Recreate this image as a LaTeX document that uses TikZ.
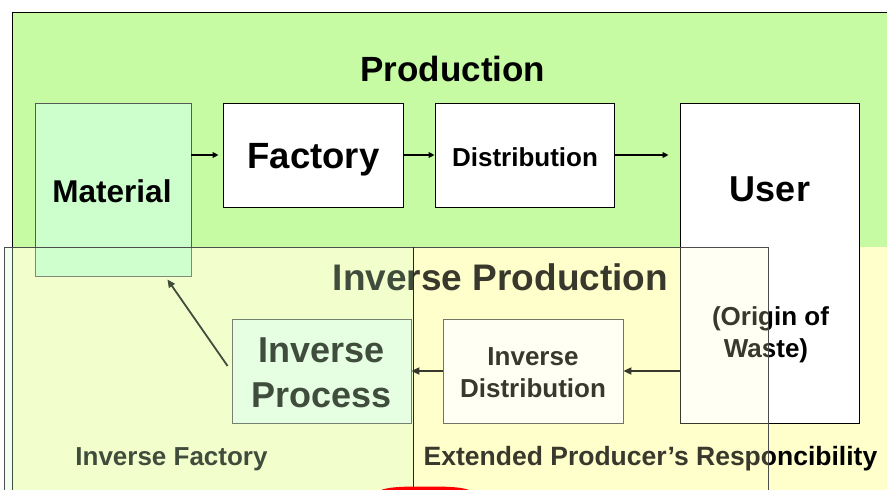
\documentclass[tikz,border=0pt]{standalone}
\usepackage{fontspec}
\setmainfont{Liberation Sans}
\usetikzlibrary{arrows.meta,calc}
\definecolor{prodgreen}{RGB}{198,251,163}
\definecolor{matgreen}{RGB}{204,255,204}
\definecolor{invyellow}{RGB}{255,255,204}
\definecolor{ovleft}{RGB}{214,255,204}
\begin{document}
\begin{tikzpicture}[x=1pt,y=-1pt,
  box/.style={draw=black, line width=0.8pt, fill=white, inner sep=0pt},
  ibox/.style={draw=black!70, line width=0.8pt, fill=white, inner sep=0pt},
  lbl/.style={anchor=base, inner sep=0pt, font=\bfseries\fontsize{#1}{#1}\selectfont},
  arr/.style={line width=1.6pt, -{Triangle[length=6pt,width=5.5pt]}},
  iarr/.style={line width=1.8pt, -{Triangle[length=8pt,width=7pt]}}]
\useasboundingbox (0,0) rectangle (887,490);
\clip (0,0) rectangle (887,490);
% background areas
\fill[prodgreen] (12.5,12.5) rectangle (900,247);
\fill[invyellow] (12.5,247) rectangle (900,500);
\draw[line width=0.9pt] (900,12.5) -- (12.5,12.5) -- (12.5,500);
% production boxes
\node[box, fill=matgreen, draw=black!65, minimum width=156pt, minimum height=173pt] (mat) at (113,189.5) {};
\node[box, minimum width=180pt, minimum height=104pt] (fac) at (313,155) {};
\node[box, minimum width=179pt, minimum height=104pt] (dist) at (524.5,155) {};
\node[box, minimum width=179pt, minimum height=320pt] (user) at (769.5,263) {};
% inverse boxes
\node[ibox, fill=matgreen!35, minimum width=179pt, minimum height=104pt] (invp) at (321.5,371) {};
\node[ibox, minimum width=180pt, minimum height=104pt] (invd) at (533,371) {};
% labels
\node[lbl=35] (tprod) at (453,81) {Production};
\node[lbl=31.5] (tmat) at (112,202) {Material};
\node[lbl=36.5] (tfac) at (313.5,168) {Factory};
\node[lbl=26] (tdist) at (525,166) {Distribution};
\node[lbl=36] (tuser) at (770,201) {User};
\node[lbl=37] (tinvprod) at (500.5,290) {Inverse Production};
\node[lbl=36] (tinvp1) at (321.5,362) {Inverse};
\node[lbl=36] (tinvp2) at (321.5,407) {Process};
\node[lbl=26] (tinvd1) at (533,365) {Inverse};
\node[lbl=26] (tinvd2) at (533,397) {Distribution};
\node[lbl=26] (torig1) at (770.5,325) {(Origin of};
\node[lbl=26] (torig2) at (766,357) {Waste)};
\node[lbl=26] (tinvf) at (171.5,465) {Inverse Factory};
\node[lbl=26.5] (tepr) at (650.5,465) {Extended Producer’s Responcibility};
% production arrows
\draw[arr, shorten >=4pt] (mat.east |- fac.west) -- (fac.west);
\draw[arr] (fac.east) -- (dist.west);
\draw[arr, shorten >=11pt] (dist.east) -- (dist.east -| user.west);
% inverse arrows
\draw[iarr] (user.west |- invd.east) -- (invd.east);
\draw[iarr] (invd.west) -- (invp.east);
\draw[iarr] ($(invp.west)+(-4,-5)$) -- ($(mat.south east)+(-24,3)$);
% translucent overlay of the inverse side
\fill[ovleft, opacity=0.3] (4,247) rectangle (413,500);
\fill[invyellow, opacity=0.22] (413,247) rectangle (768,500);
\draw[black!70, line width=0.8pt] (4,500) -- (4,247) -- (768,247) -- (768,500);
\draw[black!85, line width=0.8pt] (413,247) -- (413,500);
% red shape at the bottom
\fill[red] (376,492) .. controls (386,487) and (398,486.5) .. (425,486.5)
  .. controls (452,486.5) and (464,487) .. (474,492) -- cycle;
\end{tikzpicture}
\end{document}
